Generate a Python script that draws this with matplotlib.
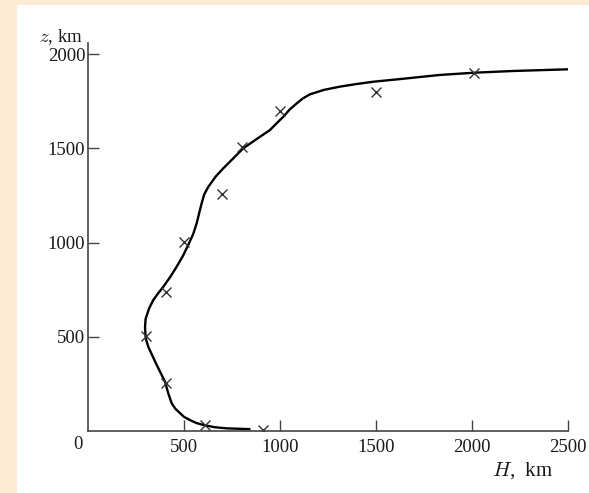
import matplotlib
matplotlib.use("Agg")
import matplotlib.pyplot as plt
from matplotlib.patches import Rectangle

# traced curve H(z)
H_curve = [840, 780, 722, 660, 610, 565, 531, 500, 479, 455, 436, 418, 401,
           380, 358, 335, 314, 304, 300, 297, 300, 318, 340, 365, 392, 430,
           462, 495, 522, 548, 566, 580, 592, 605, 627, 665, 705, 760, 809,
           880, 948, 985, 1017, 1050, 1087, 1120, 1156, 1230, 1313, 1400,
           1486, 1625, 1833, 2016, 2215, 2505]
z_curve = [10, 12, 14, 20, 30, 42, 58, 75, 95, 118, 147, 200, 262,
           305, 350, 400, 447, 480, 500, 550, 595, 650, 695, 730, 765, 820,
           872, 930, 987, 1045, 1102, 1160, 1208, 1255, 1296, 1350, 1394, 1450, 1500,
           1550, 1597, 1635, 1667, 1705, 1738, 1765, 1786, 1810, 1827, 1841,
           1853, 1867, 1889, 1901, 1910, 1919]

# measured points (crosses)
H_pts = [910, 610, 405, 300, 405, 500, 700, 800, 1000, 1500, 2010]
z_pts = [5, 30, 255, 505, 740, 1005, 1255, 1505, 1700, 1797, 1900]

x_ticks = [500, 1000, 1500, 2000, 2500]
y_ticks = [500, 1000, 1500, 2000]

plt.rcParams['font.family'] = ['Liberation Serif', 'DejaVu Serif']
plt.rcParams['mathtext.fontset'] = 'cm'

fig = plt.figure(figsize=(5.89, 4.93), dpi=100, facecolor='#fdebd3')
# white page area
fig.patches.append(Rectangle((17 / 589, 0), 1, (493 - 5) / 493,
                             transform=fig.transFigure, facecolor='white',
                             edgecolor='none', zorder=-5))

ax = fig.add_axes([88 / 589, 62 / 493, 480 / 589, 388.3 / 493])
ax.set_facecolor('none')
ax.set_zorder(2)

ax.plot(H_curve, z_curve, color='black', lw=1.7, solid_joinstyle='round')
ax.plot(H_pts, z_pts, linestyle='none', marker='x', ms=7, mew=1.0,
        color='#333333')

ax.set_xlim(0, 2500)
ax.set_ylim(0, 2060)
ax.spines['top'].set_visible(False)
ax.spines['right'].set_visible(False)
for s in ('left', 'bottom'):
    ax.spines[s].set_color('#444444')
    ax.spines[s].set_linewidth(1.2)

ax.set_xticks(x_ticks)
ax.set_yticks(y_ticks)
ax.set_xticklabels([str(v) for v in x_ticks])
ax.set_yticklabels([str(v) for v in y_ticks])
ax.tick_params(direction='in', length=8, width=1.0, color='#444444',
               labelsize=13.5, labelcolor='#1a1a1a')
ax.tick_params(axis='x', pad=6)
ax.tick_params(axis='y', pad=2)

ax.text(-0.012, -0.012, '0', transform=ax.transAxes, ha='right', va='top',
        fontsize=13.5, color='#1a1a1a')
fig.text(83 / 589, 1 - 42 / 493, r'$z$, km', ha='right', va='baseline',
         fontsize=13.5, color='#1a1a1a')
fig.text(523 / 589, 1 - 471 / 493, r'$H$,  km', ha='center', va='center',
         fontsize=15, color='#1a1a1a')

fig.savefig('out.png', dpi=100, facecolor=fig.get_facecolor())
